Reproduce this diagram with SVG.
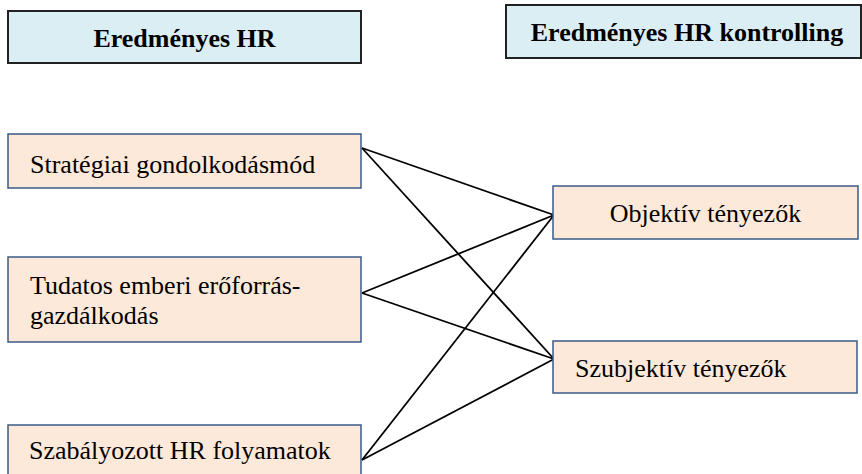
<svg xmlns="http://www.w3.org/2000/svg" width="862" height="474" viewBox="0 0 862 474">
  <style>
    .hdr { fill: #DBEEF4; stroke: #222222; stroke-width: 2; }
    .node { fill: #FDE9D9; stroke: #3A5A85; stroke-width: 1.5; }
    .hdr-text { font-family: 'Liberation Serif', 'Times New Roman', serif; font-size: 26px; font-weight: bold; fill: #000; }
    .node-text { font-family: 'Liberation Serif', 'Times New Roman', serif; font-size: 26px; fill: #000; }
    .link { stroke: #000; stroke-width: 1.8; fill: none; }
  </style>
  <rect width="862" height="474" fill="#FFFFFF"/>

  <!-- crossing links from the three HR practices to the two factor boxes -->
  <g id="connectors">
    <line class="link" x1="362" y1="148" x2="554" y2="215"/>
    <line class="link" x1="362" y1="148" x2="554" y2="359"/>
    <line class="link" x1="362" y1="293" x2="554" y2="215"/>
    <line class="link" x1="362" y1="293" x2="554" y2="359"/>
    <line class="link" x1="362" y1="460" x2="554" y2="215"/>
    <line class="link" x1="362" y1="460" x2="554" y2="359"/>
  </g>

  <g id="header-hr">
    <rect class="hdr" x="8" y="11" width="353" height="52"/>
    <text class="hdr-text" x="184.5" y="47" text-anchor="middle">Eredményes HR</text>
  </g>

  <g id="header-kontrolling">
    <rect class="hdr" x="506" y="5" width="355" height="53"/>
    <text class="hdr-text" x="687" y="41" text-anchor="middle">Eredményes HR kontrolling</text>
  </g>

  <g id="node-strategiai">
    <rect class="node" x="8" y="134" width="353" height="54"/>
    <text class="node-text" x="30" y="173">Stratégiai gondolkodásmód</text>
  </g>

  <g id="node-tudatos">
    <rect class="node" x="8" y="257" width="353" height="85"/>
    <text class="node-text" x="30" y="294">Tudatos emberi erőforrás-</text>
    <text class="node-text" x="30" y="324">gazdálkodás</text>
  </g>

  <g id="node-szabalyozott">
    <rect class="node" x="8" y="425" width="353" height="60"/>
    <text class="node-text" x="29" y="459">Szabályozott HR folyamatok</text>
  </g>

  <g id="node-objektiv">
    <rect class="node" x="553" y="186" width="305" height="53"/>
    <text class="node-text" x="705.5" y="222" text-anchor="middle">Objektív tényezők</text>
  </g>

  <g id="node-szubjektiv">
    <rect class="node" x="553" y="341" width="304" height="52"/>
    <text class="node-text" x="575" y="377">Szubjektív tényezők</text>
  </g>
</svg>
